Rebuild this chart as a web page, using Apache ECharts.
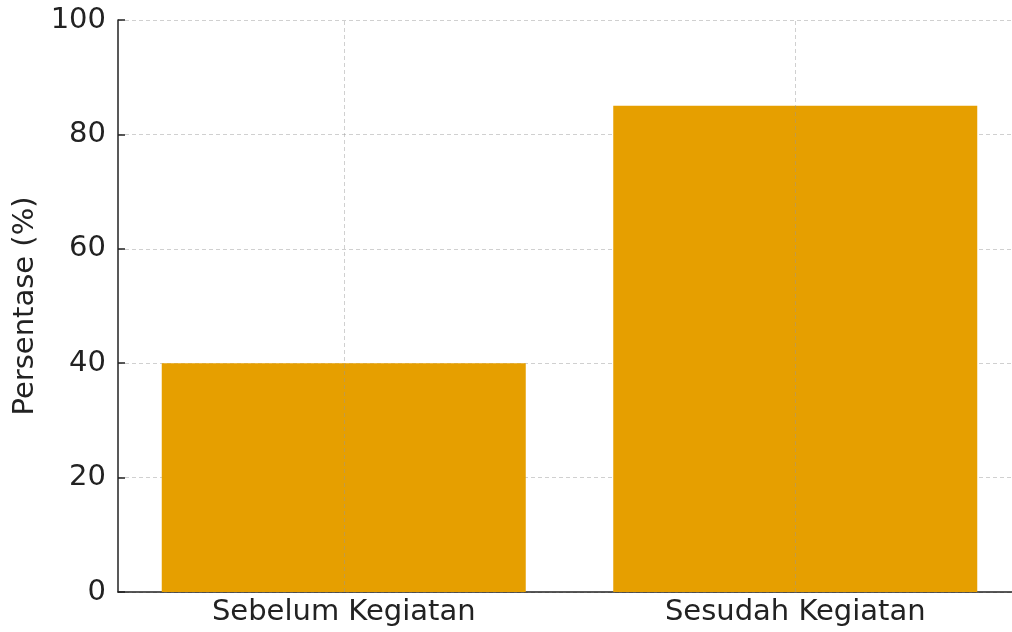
<!DOCTYPE html>
<html>
<head>
<meta charset="utf-8">
<script src="https://cdn.jsdelivr.net/npm/echarts@6/dist/echarts.min.js"></script>
<style>
  html, body { margin: 0; padding: 0; background: #fff; overflow: hidden; width: 1012px; height: 632px; }
  #main { width: 1030px; height: 632px; }
</style>
</head>
<body>
<div id="main"></div>
<script>
// 数据
var categories = ['Sebelum Kegiatan', 'Sesudah Kegiatan'];
var values = [40, 85];
var yTicks = [0, 20, 40, 60, 80, 100];

var myChart = echarts.init(document.getElementById('main'));

var font = 'DejaVu Sans';

var option = {
    animation: false,
    grid: {
        left: 118,
        right: 9,     // 图比窗口略宽，右侧被裁掉
        top: 20,
        bottom: 40
    },
    xAxis: {
        type: 'category',
        data: categories,
        axisLine: { lineStyle: { color: '#222', width: 1.5 } },
        axisTick: { alignWithLabel: true, inside: true, length: 7, lineStyle: { color: '#222', width: 1.5 } },
        axisLabel: { fontFamily: font, fontSize: 29, color: '#222', margin: 6 },
        splitLine: { show: false }
    },
    yAxis: {
        type: 'value',
        min: yTicks[0],
        max: yTicks[yTicks.length - 1],
        interval: 20,
        name: 'Persentase (%)',
        nameLocation: 'middle',
        nameGap: 76,
        nameTextStyle: { fontFamily: font, fontSize: 29, color: '#222' },
        axisLine: { show: true, lineStyle: { color: '#222', width: 1.5 } },
        axisTick: { show: true, inside: true, length: 7, lineStyle: { color: '#222', width: 1.5 } },
        axisLabel: { fontFamily: font, fontSize: 29, color: '#222', margin: 12 },
        splitLine: { show: true, lineStyle: { type: [4, 3], color: 'rgba(150,150,150,0.45)', width: 1 } }
    },
    series: [{
        type: 'bar',
        data: values,
        barWidth: 364,
        itemStyle: { color: '#E69F00' },
        // 竖向网格线（在类目中心）
        markLine: {
            silent: true,
            symbol: 'none',
            label: { show: false },
            lineStyle: { type: [4, 3], color: 'rgba(150,150,150,0.45)', width: 1 },
            data: [{ xAxis: categories[0] }, { xAxis: categories[1] }]
        }
    }]
};

myChart.setOption(option, true);
</script>
</body>
</html>
